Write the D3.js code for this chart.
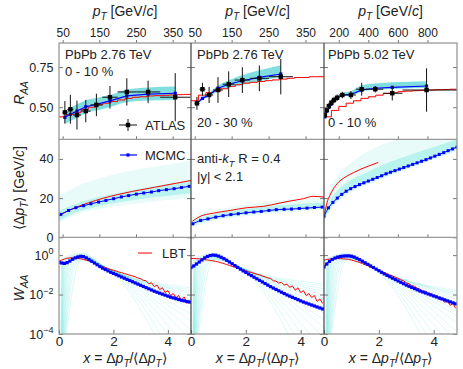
<!DOCTYPE html>
<html>
<head>
<meta charset="utf-8">
<script src="https://cdn.jsdelivr.net/npm/d3@7"></script>
<style>
  body { margin: 0; background: #fff; }
  text { font-family: "Liberation Sans", Arial, sans-serif; fill: #222; }
</style>
</head>
<body>
<svg id="chart" width="463" height="369"></svg>
<script>
// ---------- top row: R_AA vs pT ----------
const binEdges276 = [50, 63, 79, 100, 126, 158, 200, 251, 316, 398];
const ptMid276 = [56, 71, 89, 113, 142, 179, 225, 283, 357];
const binEdges502 = [100, 112, 126, 141, 158, 178, 200, 251, 316, 398, 501, 631, 1000];
const ptMid502 = [106, 119, 133, 150, 168, 189, 224, 282, 355, 447, 562, 794];

const atlas0010 = [0.468, 0.487, 0.451, 0.476, 0.514, 0.562, 0.595, 0.595, 0.562];
const atlasErr0010 = [0.07, 0.09, 0.09, 0.07, 0.07, 0.07, 0.085, 0.07, 0.15];
const atlas2030 = [0.524, 0.612, 0.576, 0.607, 0.643, 0.669, 0.680, 0.690];
const atlasErr2030 = [0.04, 0.04, 0.05, 0.08, 0.08, 0.08, 0.08, 0.11];
const atlas502 = [0.451, 0.483, 0.507, 0.528, 0.545, 0.559, 0.576, 0.576, 0.612, 0.612, 0.587, 0.607];
const atlasErr502 = [0.02, 0.02, 0.02, 0.02, 0.02, 0.02, 0.02, 0.025, 0.04, 0.02, 0.045, 0.135];

const mcmcR0010 = [0.437, 0.456, 0.476, 0.503, 0.518, 0.539, 0.570, 0.582, 0.587];
const mcmcRLo0010 = [0.395, 0.414, 0.435, 0.463, 0.479, 0.502, 0.531, 0.541, 0.545];
const mcmcRHi0010 = [0.480, 0.498, 0.517, 0.543, 0.557, 0.576, 0.609, 0.623, 0.629];
const mcmcR2030 = [0.524, 0.555, 0.576, 0.618, 0.643, 0.665, 0.686, 0.707];
const mcmcRLo2030 = [0.515, 0.545, 0.565, 0.600, 0.620, 0.640, 0.662, 0.690];
const mcmcRHi2030 = [0.533, 0.565, 0.590, 0.635, 0.668, 0.700, 0.730, 0.762];
const mcmcR502 = [0.440, 0.475, 0.500, 0.520, 0.540, 0.555, 0.576, 0.580, 0.607, 0.618, 0.624, 0.632];
const mcmcRLo502 = [0.435, 0.470, 0.495, 0.515, 0.535, 0.550, 0.568, 0.572, 0.597, 0.608, 0.614, 0.620];
const mcmcRHi502 = [0.445, 0.480, 0.505, 0.527, 0.548, 0.565, 0.590, 0.600, 0.637, 0.648, 0.655, 0.662];

const lbtEdges276 = [40, 60, 80, 100, 120, 140, 160, 180, 200, 220, 240, 260, 280, 300, 320, 340, 360, 380, 400];
const lbtR0010 = [0.44, 0.455, 0.468, 0.485, 0.50, 0.515, 0.525, 0.535, 0.545, 0.555, 0.562, 0.565, 0.57, 0.572, 0.574, 0.576, 0.578, 0.58];
const lbtR2030 = [0.54, 0.575, 0.59, 0.60, 0.615, 0.63, 0.64, 0.65, 0.655, 0.66, 0.665, 0.67, 0.675, 0.68, 0.685, 0.685, 0.69, 0.69];
const lbtEdges502 = [100, 150, 200, 250, 300, 350, 400, 450, 500, 550, 600, 650, 700, 750, 800, 850, 900, 950, 1000];
const lbtR502 = [0.44, 0.48, 0.505, 0.525, 0.54, 0.555, 0.565, 0.575, 0.585, 0.59, 0.597, 0.60, 0.603, 0.605, 0.607, 0.609, 0.61, 0.612];

// ---------- middle row: <Delta pT> vs pT ----------
const ptGrid276 = [45, 66, 86, 107, 127, 148, 168, 189, 210, 230, 251, 271, 292, 312, 333, 354, 374, 395];
const dpt0010 = [11.7, 13.7, 15.1, 16.1, 17.1, 18.0, 18.8, 19.7, 20.6, 21.3, 22.0, 22.6, 23.1, 23.8, 24.3, 24.8, 25.4, 26.0];
const dpt2030 = [6.9, 8.6, 9.4, 10.3, 11.0, 11.6, 12.0, 12.5, 12.9, 13.2, 13.7, 14.1, 14.3, 14.4, 14.7, 14.9, 15.2, 15.4];
const ptGrid502 = [100, 130, 160, 190, 220, 250, 280, 310, 340, 370, 400, 430, 460, 490, 520, 550,
  580, 610, 640, 670, 700, 730, 760, 790, 820, 850, 880, 910, 940, 970, 1000];
const dpt502 = [10.8, 15.0, 17.8, 20.0, 21.9, 23.5, 24.8, 25.9, 26.9, 27.8, 28.7, 29.6, 30.5, 31.4, 32.4, 33.2,
  34.0, 34.8, 35.6, 36.4, 37.2, 38.0, 38.8, 39.6, 40.5, 41.4, 42.3, 43.2, 44.2, 45.1, 46.0];

const lbtPt0010 = [40, 60, 80, 100, 120, 140, 160, 180, 200, 220, 240, 260, 280, 300, 320, 340, 360, 380, 400];
const lbtDpt0010 = [11, 13, 14.8, 16.3, 17.6, 18.8, 19.9, 20.9, 21.8, 22.6, 23.4, 24.1, 24.8, 25.5, 26.2, 26.9, 27.6, 28.3, 29.0];
const lbtPt2030 = [44, 64, 100, 146, 191, 236, 281, 308, 344, 371, 400];
const lbtDpt2030 = [8.2, 10.6, 12.3, 13.7, 15.1, 15.8, 17.5, 18.5, 19.7, 20.9, 20.5];
const lbtPt502 = [105, 120, 140, 170, 208, 250, 300, 350, 400, 467];
const lbtDpt502 = [12, 17.5, 21.4, 25.5, 28.8, 31, 33, 34.8, 36.3, 38.2];

const bandPt276 = [40, 100, 150, 200, 250, 300, 350, 400];
const bandOutLo0010 = [7.5, 12.5, 14.5, 16, 17.2, 18.3, 19.2, 20];
const bandOutHi0010 = [21, 27, 30, 32.5, 34.5, 36, 37.5, 39];
const bandInLo0010 = [8.5, 13.5, 16, 17.8, 19.2, 20.5, 21.5, 22.5];
const bandInHi0010 = [13.5, 18, 20.5, 22.5, 24.5, 26, 27.5, 29];
const bandOutLo2030 = [5, 8.5, 10, 11, 12, 12.8, 13.5, 14];
const bandOutHi2030 = [10, 13.5, 15.5, 17, 18, 19, 19.8, 20.5];
const bandInLo2030 = [5.8, 9.2, 10.8, 12, 12.8, 13.5, 14.2, 14.8];
const bandInHi2030 = [8.5, 11.8, 13.5, 14.8, 15.8, 16.6, 17.3, 17.8];
const bandPt502 = [100, 150, 200, 300, 400, 500, 600, 700, 800, 900, 1000];
const bandOutLo502 = [8, 14.5, 18.5, 23.5, 27, 30, 33, 35.8, 38.5, 41.2, 44];
const bandOutHi502 = [14, 26, 32, 39, 44, 47.5, 50, 51, 51, 51, 51];
const bandInLo502 = [9, 15.5, 19.5, 24.5, 27.8, 30.8, 33.6, 36.3, 39, 41.8, 45];
const bandInHi502 = [12.5, 20, 24.5, 30, 33.5, 37, 40, 42.5, 45, 47.5, 50];

// ---------- bottom row: W_AA vs x (values stored as log10 W) ----------
const xGrid = [0, 0.1, 0.2, 0.3, 0.4, 0.5, 0.6, 0.7, 0.8, 0.9, 1.0, 1.1, 1.2, 1.3, 1.4, 1.5, 1.6, 1.7, 1.8, 1.9,
  2.0, 2.1, 2.2, 2.3, 2.4, 2.5, 2.6, 2.7, 2.8, 2.9, 3.0, 3.1, 3.2, 3.3, 3.4, 3.5, 3.6, 3.7, 3.8, 3.9,
  4.0, 4.1, 4.2, 4.3, 4.4, 4.5, 4.6, 4.7, 4.8];
const logW0010 = [-0.37, -0.40, -0.42, -0.38, -0.30, -0.21, -0.14, -0.09, -0.06, -0.08,
  -0.14, -0.22, -0.31, -0.40, -0.49, -0.58, -0.66, -0.73, -0.80, -0.87,
  -0.93, -0.99, -1.05, -1.11, -1.17, -1.23, -1.29, -1.35, -1.41, -1.47,
  -1.53, -1.59, -1.65, -1.71, -1.77, -1.83, -1.88, -1.93, -1.98, -2.03,
  -2.08, -2.13, -2.17, -2.21, -2.25, -2.29, -2.32, -2.35, -2.38];
const logW2030 = [-0.63, -0.55, -0.45, -0.35, -0.24, -0.14, -0.07, -0.02, 0.0, -0.01,
  -0.05, -0.11, -0.18, -0.26, -0.35, -0.44, -0.53, -0.62, -0.71, -0.80,
  -0.88, -0.96, -1.04, -1.12, -1.20, -1.28, -1.36, -1.44, -1.52, -1.60,
  -1.67, -1.74, -1.81, -1.88, -1.95, -2.02, -2.08, -2.14, -2.20, -2.26,
  -2.32, -2.38, -2.43, -2.48, -2.53, -2.58, -2.63, -2.68, -2.73];
const logW502 = [-0.60, -0.45, -0.32, -0.22, -0.15, -0.10, -0.07, -0.05, -0.04, -0.04,
  -0.06, -0.10, -0.16, -0.23, -0.31, -0.39, -0.47, -0.55, -0.63, -0.71,
  -0.79, -0.87, -0.95, -1.03, -1.10, -1.17, -1.24, -1.31, -1.38, -1.45,
  -1.52, -1.58, -1.64, -1.70, -1.76, -1.82, -1.87, -1.92, -1.97, -2.02,
  -2.07, -2.12, -2.17, -2.22, -2.27, -2.32, -2.37, -2.42, -2.47];
const lbtLogW0010 = [-0.31, -0.25, -0.20, -0.16, -0.14, -0.14, -0.15, -0.17, -0.19, -0.22,
  -0.26, -0.30, -0.35, -0.41, -0.47, -0.53, -0.58, -0.63, -0.68, -0.73,
  -0.77, -0.81, -0.86, -0.89, -0.94, -0.97, -1.02, -1.06, -1.10, -1.16,
  -1.20, -1.28, -1.30, -1.45, -1.40, -1.60, -1.52, -1.75, -1.65, -1.90,
  -1.80, -2.05, -1.95, -2.15, -2.05, -2.30, -2.12, -2.45, -2.30];
const lbtLogW2030 = [-0.17, -0.17, -0.18, -0.19, -0.21, -0.23, -0.25, -0.27, -0.29, -0.32,
  -0.35, -0.39, -0.43, -0.48, -0.52, -0.57, -0.61, -0.66, -0.70, -0.75,
  -0.79, -0.84, -0.88, -0.92, -0.97, -1.00, -1.06, -1.10, -1.16, -1.18,
  -1.30, -1.32, -1.42, -1.38, -1.52, -1.47, -1.64, -1.56, -1.78, -1.66,
  -1.90, -1.80, -2.05, -1.95, -2.15, -2.05, -2.35, -2.22, -2.45];
const lbtLogW502 = [-0.26, -0.22, -0.20, -0.19, -0.18, -0.18, -0.18, -0.19, -0.20, -0.22,
  -0.25, -0.29, -0.33, -0.38, -0.43, -0.49, -0.54, -0.60, -0.66, -0.72,
  -0.78, -0.84, -0.90, -0.95, -1.01, -1.06, -1.12, -1.18, -1.25, -1.30,
  -1.40, -1.45, -1.55, -1.58, -1.68, -1.72, -1.85, -1.82, -1.98, -1.95,
  -2.12, -2.05, -2.25, -2.20, -2.40, -2.30, -2.55, -2.45, -2.70];

// posterior sample fan (log10 W): leaves the floor at fanStart, reaches the
// peak region at fanRise, passes the knee, ends at x = 4.85
const fanStart = [0.06, 0.07, 0.08, 0.09, 0.1, 0.1, 0.11, 0.12, 0.12, 0.13, 0.14, 0.15, 0.16, 0.17, 0.18, 0.2];
const fanRise = [0.1, 0.12, 0.14, 0.16, 0.18, 0.2, 0.23, 0.26, 0.3, 0.34, 0.38, 0.43, 0.48, 0.54, 0.6, 0.68];
const fanPeak = [0.1, 0.06, 0.03, 0.0, -0.02, -0.04, -0.06, -0.08, -0.1, -0.12, -0.14, -0.16, -0.18, -0.2, -0.22, -0.25];
const fanKnee = [[1.7, -0.62], [1.75, -0.6], [1.65, -0.55]];
const fanEnd0010 = [-1.65, -1.75, -1.85, -1.95, -2.1, -2.25, -2.45, -2.7, -3.0, -3.35, -3.8, -4.3, -5.0, -5.8, -6.8, -8.0];
const fanEnd2030 = [-1.45, -1.55, -1.7, -1.85, -2.0, -2.2, -2.4, -2.65, -2.95, -3.3, -3.7, -4.2, -4.9, -5.7, -6.7, -8.0];
const fanEnd502 = [-1.8, -1.9, -2.0, -2.1, -2.25, -2.4, -2.6, -2.85, -3.1, -3.45, -3.9, -4.4, -5.0, -5.8, -6.8, -8.0];

// ---------- layout ----------
const colX = [59, 191, 324, 457];
const rowY = [43, 139.3, 237.3, 334];
const CYAN = '#40e0d0';
const BAND = '#72dada';

const svg = d3.select('#chart');

const ptScale = [
  d3.scaleLinear().domain([40, 400]).range([colX[0], colX[1]]),
  d3.scaleLinear().domain([40, 400]).range([colX[1], colX[2]]),
  d3.scaleLinear().domain([100, 1000]).range([colX[2], colX[3]]),
];
const xScale = [0, 1, 2].map((c) => d3.scaleLinear().domain([0, 4.85]).range([colX[c], colX[c + 1]]));
const yR = d3.scaleLinear().domain([0.3, 0.9]).range([rowY[1], rowY[0]]);
const yD = d3.scaleLinear().domain([0, 50]).range([rowY[2], rowY[1]]);
const yW = d3.scaleLog().domain([1e-4, 8]).range([rowY[3], rowY[2]]);

const defs = svg.append('defs');
const panels = [];
for (let r = 0; r < 3; r++) {
  panels.push([]);
  for (let c = 0; c < 3; c++) {
    defs.append('clipPath').attr('id', `clip-${r}-${c}`)
      .append('rect')
      .attr('x', colX[c]).attr('y', rowY[r])
      .attr('width', colX[c + 1] - colX[c]).attr('height', rowY[r + 1] - rowY[r]);
    panels[r].push(svg.append('g').attr('clip-path', `url(#clip-${r}-${c})`));
  }
}

// text with italic / sub / sup pieces
function rich(sel, parts, size) {
  let shift = 0;
  parts.forEach((p) => {
    const ts = sel.append('tspan').text(p.t);
    const target = p.sub ? size * 0.3 : (p.sup ? -size * 0.42 : 0);
    if (target !== shift) { ts.attr('dy', target - shift); shift = target; }
    if (p.sub || p.sup) ts.attr('font-size', size * 0.72);
    if (p.it) ts.attr('font-style', 'italic');
  });
  return sel;
}

function blueMarkers(g, xs, ys, sx, sy, size) {
  g.selectAll(null).data(xs).enter().append('rect')
    .attr('x', (d) => sx(d) - size / 2)
    .attr('y', (d, i) => sy(ys[i]) - size / 2)
    .attr('width', size).attr('height', size)
    .attr('fill', '#0000ff');
}

// ---------- top row ----------
const topSets = [
  { mid: ptMid276, edges: binEdges276, atlas: atlas0010, err: atlasErr0010, mc: mcmcR0010, lo: mcmcRLo0010, hi: mcmcRHi0010, lbtE: lbtEdges276, lbt: lbtR0010 },
  { mid: ptMid276.slice(0, 8), edges: binEdges276.slice(0, 9), atlas: atlas2030, err: atlasErr2030, mc: mcmcR2030, lo: mcmcRLo2030, hi: mcmcRHi2030, lbtE: lbtEdges276, lbt: lbtR2030 },
  { mid: ptMid502, edges: binEdges502, atlas: atlas502, err: atlasErr502, mc: mcmcR502, lo: mcmcRLo502, hi: mcmcRHi502, lbtE: lbtEdges502, lbt: lbtR502 },
];

topSets.forEach((s, c) => {
  const g = panels[0][c];
  const sx = ptScale[c];
  g.append('path')
    .attr('d', d3.area().x((d, i) => sx(s.mid[i])).y0((d, i) => yR(s.lo[i])).y1((d, i) => yR(s.hi[i]))
      .curve(d3.curveMonotoneX)(s.mid))
    .attr('fill', BAND).attr('opacity', 0.9);
  g.append('path')
    .attr('d', d3.line().x((d) => sx(d[0])).y((d) => yR(d[1])).curve(d3.curveStepAfter)(
      s.lbtE.map((e, i) => [e, s.lbt[Math.min(i, s.lbt.length - 1)]])))
    .attr('fill', 'none').attr('stroke', '#ff0000').attr('stroke-width', 1);
  g.append('path')
    .attr('d', d3.line().x((d, i) => sx(s.mid[i])).y((d) => yR(d))(s.mc))
    .attr('fill', 'none').attr('stroke', '#0000ff').attr('stroke-width', 1.2);
  blueMarkers(g, s.mid, s.mc, sx, yR, 3.2);
  // ATLAS data with error bars
  s.mid.forEach((p, i) => {
    g.append('line')
      .attr('x1', sx(s.edges[i])).attr('x2', sx(s.edges[i + 1]))
      .attr('y1', yR(s.atlas[i])).attr('y2', yR(s.atlas[i]))
      .attr('stroke', '#111').attr('stroke-width', 1);
    g.append('line')
      .attr('x1', sx(p)).attr('x2', sx(p))
      .attr('y1', yR(s.atlas[i] - s.err[i])).attr('y2', yR(s.atlas[i] + s.err[i]))
      .attr('stroke', '#111').attr('stroke-width', 1);
    g.append('rect')
      .attr('x', sx(p) - 2.2).attr('y', yR(s.atlas[i]) - 2.2)
      .attr('width', 4.4).attr('height', 4.4).attr('fill', '#000');
  });
});

// ---------- middle row ----------
const midSets = [
  { pt: ptGrid276, v: dpt0010, lp: lbtPt0010, lv: lbtDpt0010, bp: bandPt276, oLo: bandOutLo0010, oHi: bandOutHi0010, iLo: bandInLo0010, iHi: bandInHi0010 },
  { pt: ptGrid276, v: dpt2030, lp: lbtPt2030, lv: lbtDpt2030, bp: bandPt276, oLo: bandOutLo2030, oHi: bandOutHi2030, iLo: bandInLo2030, iHi: bandInHi2030 },
  { pt: ptGrid502, v: dpt502, lp: lbtPt502, lv: lbtDpt502, bp: bandPt502, oLo: bandOutLo502, oHi: bandOutHi502, iLo: bandInLo502, iHi: bandInHi502 },
];

midSets.forEach((s, c) => {
  const g = panels[1][c];
  const sx = ptScale[c];
  const band = (lo, hi) => d3.area().x((d, i) => sx(s.bp[i])).y0((d, i) => yD(lo[i])).y1((d, i) => yD(hi[i]))
    .curve(d3.curveMonotoneX)(s.bp);
  g.append('path').attr('d', band(s.oLo, s.oHi)).attr('fill', CYAN).attr('opacity', 0.12);
  g.append('path').attr('d', band(s.iLo, s.iHi)).attr('fill', CYAN).attr('opacity', 0.28);
  g.append('path')
    .attr('d', d3.line().x((d, i) => sx(s.lp[i])).y((d) => yD(d)).curve(d3.curveMonotoneX)(s.lv))
    .attr('fill', 'none').attr('stroke', '#ff0000').attr('stroke-width', 1);
  g.append('path')
    .attr('d', d3.line().x((d, i) => sx(s.pt[i])).y((d) => yD(d)).curve(d3.curveMonotoneX)(s.v))
    .attr('fill', 'none').attr('stroke', '#0000ff').attr('stroke-width', 1);
  blueMarkers(g, s.pt, s.v, sx, yD, 3);
});

// ---------- bottom row ----------
const botSets = [
  { blue: logW0010, red: lbtLogW0010, ends: fanEnd0010 },
  { blue: logW2030, red: lbtLogW2030, ends: fanEnd2030 },
  { blue: logW502, red: lbtLogW502, ends: fanEnd502 },
];

botSets.forEach((s, c) => {
  const g = panels[2][c];
  const sx = xScale[c];
  const fanLine = d3.line().x((d) => sx(d[0])).y((d) => yW(10 ** d[1])).curve(d3.curveMonotoneX);
  s.ends.forEach((e, i) => {
    const pk = fanPeak[i];
    const knots = [[fanStart[i], -5], [fanRise[i], pk - 0.3], [0.85, pk], fanKnee[c], [4.85, e]];
    g.append('path').attr('d', fanLine(knots))
      .attr('fill', 'none').attr('stroke', CYAN).attr('stroke-width', 1).attr('opacity', 0.18);
  });
  g.append('path')
    .attr('d', d3.line().x((d, i) => sx(xGrid[i])).y((d) => yW(10 ** d))(s.red))
    .attr('fill', 'none').attr('stroke', '#ff0000').attr('stroke-width', 1);
  g.append('path')
    .attr('d', d3.line().x((d, i) => sx(xGrid[i])).y((d) => yW(10 ** d)).curve(d3.curveMonotoneX)(s.blue))
    .attr('fill', 'none').attr('stroke', '#0000ff').attr('stroke-width', 1.2);
  blueMarkers(g, xGrid, s.blue.map((d) => 10 ** d), sx, yW, 3.2);
});

// ---------- axes / ticks ----------
const tickTop = [[50, 150, 250, 350], [50, 150, 250, 350], [200, 400, 600, 800]];
function styleAxis(sel, size) {
  sel.select('.domain').remove();
  sel.selectAll('line').attr('stroke', '#777');
  sel.selectAll('text').attr('font-size', size).attr('fill', '#222')
    .attr('font-family', '"Liberation Sans", Arial, sans-serif');
}

for (let c = 0; c < 3; c++) {
  // pT ticks (top edge of top row, with labels)
  svg.append('g').attr('transform', `translate(0,${rowY[0]})`)
    .call(d3.axisTop(ptScale[c]).tickValues(tickTop[c]).tickSizeInner(3).tickSizeOuter(0).tickPadding(3))
    .call((a) => styleAxis(a, 12));
  // inner pT ticks on row boundaries of top and middle rows
  [rowY[1], rowY[2]].forEach((yy) => {
    svg.append('g').attr('transform', `translate(0,${yy})`)
      .call(d3.axisBottom(ptScale[c]).tickValues(tickTop[c]).tickSizeInner(-3).tickSizeOuter(0).tickFormat(''))
      .call((a) => styleAxis(a, 12));
  });
  // bottom x ticks
  svg.append('g').attr('transform', `translate(0,${rowY[3]})`)
    .call(d3.axisBottom(xScale[c]).tickValues([0, 2, 4]).tickSizeInner(-4).tickSizeOuter(0).tickPadding(2.5)
      .tickFormat(d3.format('d')))
    .call((a) => styleAxis(a, 13.5));

  const yAx = [
    [yR, [0.5, 0.75], d3.format('.2f')],
    [yD, [0, 20, 40], d3.format('d')],
    [yW, [1e-4, 1e-2, 1], null],
  ];
  yAx.forEach(([sc, vals, fmt]) => {
    const left = svg.append('g').attr('transform', `translate(${colX[c]},0)`)
      .call(d3.axisLeft(sc).tickValues(vals).tickSizeInner(-4).tickSizeOuter(0).tickPadding(5.5)
        .tickFormat(c === 0 && fmt ? fmt : ''))
      .call((a) => styleAxis(a, 12.5));
    svg.append('g').attr('transform', `translate(${colX[c + 1]},0)`)
      .call(d3.axisRight(sc).tickValues(vals).tickSizeInner(-4).tickSizeOuter(0).tickFormat(''))
      .call((a) => styleAxis(a, 12.5));
    if (c === 0 && !fmt) {
      left.selectAll('.tick').each(function (d) {
        const t = d3.select(this).select('text').text(null);
        rich(t, [{ t: '10' }, { t: String(Math.round(Math.log10(d))).replace('-', '\u2212'), sup: true }], 12.5);
      });
    }
  });
}

// ---------- frame ----------
svg.append('rect')
  .attr('x', colX[0]).attr('y', rowY[0])
  .attr('width', colX[3] - colX[0]).attr('height', rowY[3] - rowY[0])
  .attr('fill', 'none').attr('stroke', '#999').attr('stroke-width', 1.3);
[rowY[1], rowY[2]].forEach((yy) => {
  svg.append('line').attr('x1', colX[0]).attr('x2', colX[3]).attr('y1', yy).attr('y2', yy)
    .attr('stroke', '#999').attr('stroke-width', 1.3);
});
[colX[1], colX[2]].forEach((xx) => {
  svg.append('line').attr('x1', xx).attr('x2', xx).attr('y1', rowY[0]).attr('y2', rowY[3])
    .attr('stroke', '#444').attr('stroke-width', 1.2);
});

// ---------- titles ----------
const ptTitle = [{ t: 'p', it: 1 }, { t: 'T', sub: 1, it: 1 }, { t: ' [GeV/' }, { t: 'c', it: 1 }, { t: ']' }];
const xTitle = [{ t: 'x', it: 1 }, { t: ' = \u0394' }, { t: 'p', it: 1 }, { t: 'T', sub: 1, it: 1 },
  { t: '/\u27e8\u0394' }, { t: 'p', it: 1 }, { t: 'T', sub: 1, it: 1 }, { t: '\u27e9' }];
for (let c = 0; c < 3; c++) {
  const cx = (colX[c] + colX[c + 1]) / 2;
  rich(svg.append('text').attr('x', cx).attr('y', 16).attr('text-anchor', 'middle').attr('font-size', 14), ptTitle, 14);
  rich(svg.append('text').attr('x', cx).attr('y', 363).attr('text-anchor', 'middle').attr('font-size', 14), xTitle, 14);
}
const yTitles = [
  [93, [{ t: 'R', it: 1 }, { t: 'AA', sub: 1, it: 1 }]],
  [188, [{ t: '\u27e8\u0394' }, { t: 'p', it: 1 }, { t: 'T', sub: 1, it: 1 }, { t: '\u27e9 [GeV/' }, { t: 'c', it: 1 }, { t: ']' }]],
  [288, [{ t: 'W', it: 1 }, { t: 'AA', sub: 1, it: 1 }]],
];
yTitles.forEach(([cy, parts]) => {
  rich(svg.append('text').attr('transform', `translate(24,${cy}) rotate(-90)`)
    .attr('text-anchor', 'middle').attr('font-size', 14), parts, 14);
});

// ---------- annotations ----------
const notes = [
  [65, 59, [{ t: 'PbPb 2.76 TeV' }]],
  [65, 76, [{ t: '0 - 10 %' }]],
  [197, 59, [{ t: 'PbPb 2.76 TeV' }]],
  [197, 127, [{ t: '20 - 30 %' }]],
  [328, 59, [{ t: 'PbPb 5.02 TeV' }]],
  [328, 127, [{ t: '0 - 10 %' }]],
  [197, 163, [{ t: 'anti-' }, { t: 'k', it: 1 }, { t: 'T', sub: 1, it: 1 }, { t: ' R = 0.4' }]],
  [197, 181, [{ t: '|y| < 2.1' }]],
];
notes.forEach(([x, y, parts]) => {
  rich(svg.append('text').attr('x', x).attr('y', y).attr('font-size', 13), parts, 13);
});

// legends
const lg = svg.append('g');
lg.append('line').attr('x1', 119).attr('x2', 137).attr('y1', 125).attr('y2', 125).attr('stroke', '#111');
lg.append('line').attr('x1', 128).attr('x2', 128).attr('y1', 119).attr('y2', 131).attr('stroke', '#111');
lg.append('rect').attr('x', 125.8).attr('y', 122.8).attr('width', 4.4).attr('height', 4.4).attr('fill', '#000');
lg.append('text').attr('x', 145).attr('y', 129.5).attr('font-size', 13).text('ATLAS');
lg.append('line').attr('x1', 120).attr('x2', 137).attr('y1', 155).attr('y2', 155).attr('stroke', '#0000ff').attr('stroke-width', 1.2);
lg.append('rect').attr('x', 126.4).attr('y', 153.4).attr('width', 3.2).attr('height', 3.2).attr('fill', '#0000ff');
lg.append('text').attr('x', 145).attr('y', 159.5).attr('font-size', 13).text('MCMC');
lg.append('line').attr('x1', 138).attr('x2', 152).attr('y1', 253).attr('y2', 253).attr('stroke', '#ff0000');
lg.append('text').attr('x', 162).attr('y', 257.5).attr('font-size', 13).text('LBT');
</script>
</body>
</html>
